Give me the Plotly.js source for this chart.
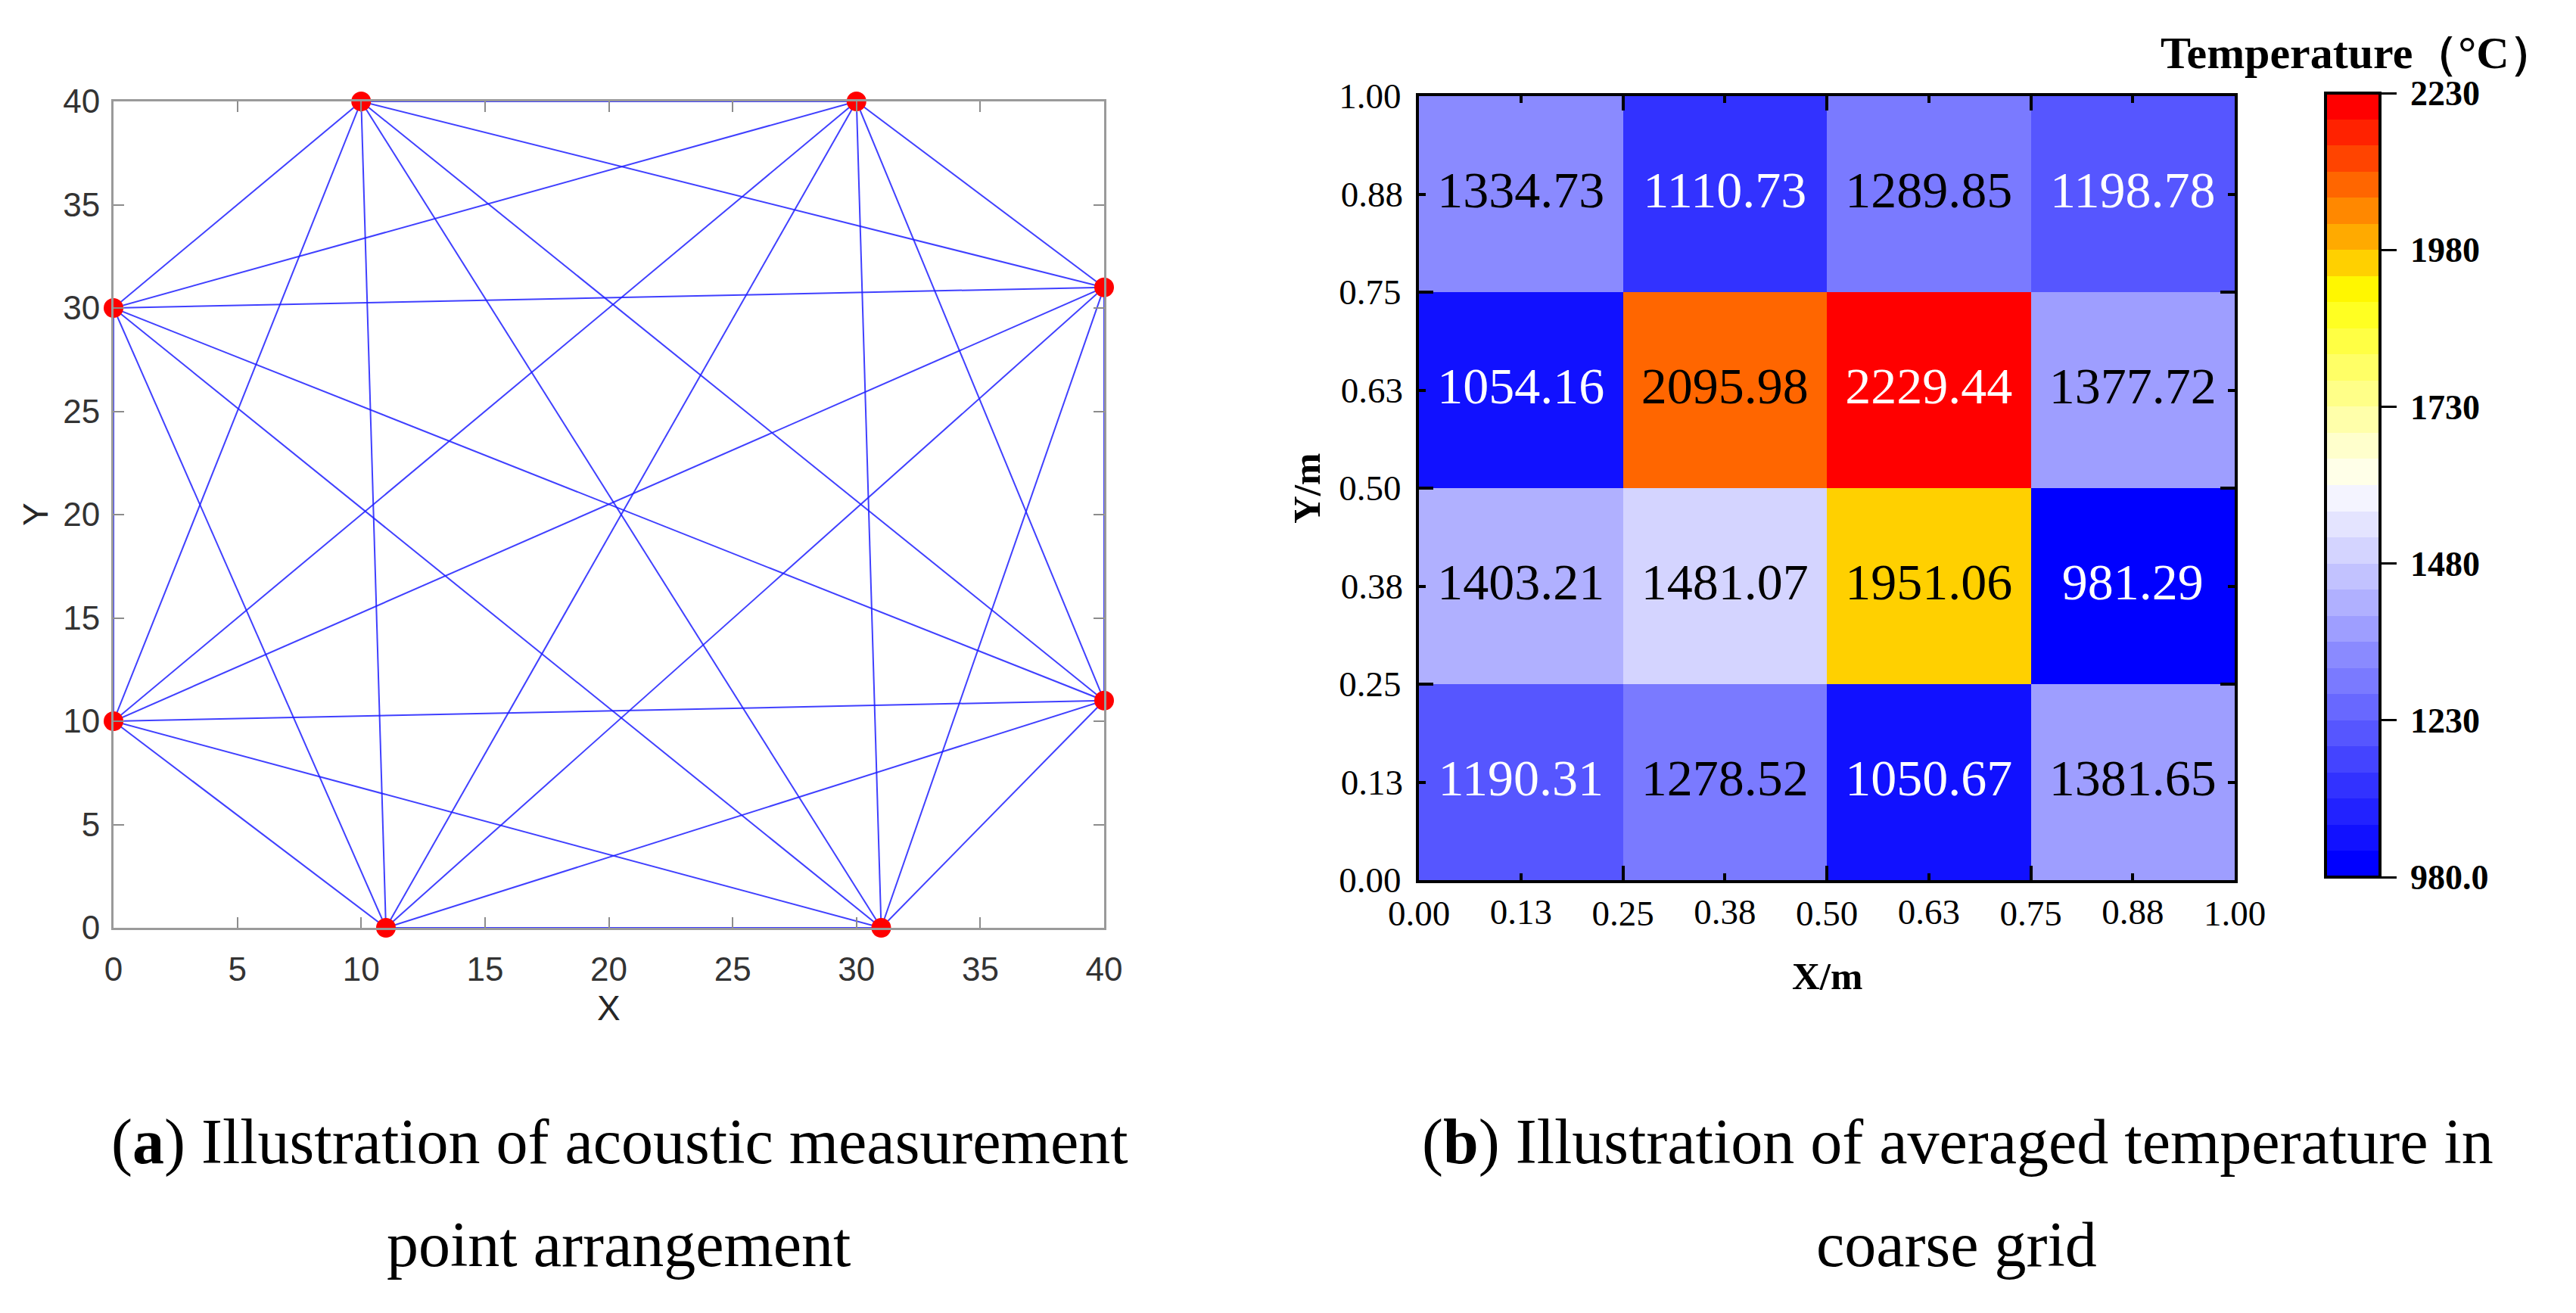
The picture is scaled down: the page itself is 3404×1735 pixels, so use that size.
<!DOCTYPE html>
<html><head><meta charset="utf-8">
<script src="https://cdn.plot.ly/plotly-3.0.1.min.js"></script>
<style>html,body{margin:0;padding:0;background:#fff;} #chart{width:3404px;height:1735px;}</style>
</head><body><div id="chart"></div>
<script>
// ---------- Panel (a): acoustic measurement points ----------
const sensorX = [10, 30, 0, 40, 0, 40, 11, 31];
const sensorY = [40, 40, 30, 31, 10, 11, 0, 0];
const ticksA = [0, 5, 10, 15, 20, 25, 30, 35, 40];

// ---------- Panel (b): averaged temperature, coarse grid ----------
const cellCenters = [0.125, 0.375, 0.625, 0.875];
const tempRow1 = [1190.31, 1278.52, 1050.67, 1381.65]; // y = 0.125
const tempRow2 = [1403.21, 1481.07, 1951.06, 981.29];  // y = 0.375
const tempRow3 = [1054.16, 2095.98, 2229.44, 1377.72]; // y = 0.625
const tempRow4 = [1334.73, 1110.73, 1289.85, 1198.78]; // y = 0.875
const majorTicks = [0, 0.25, 0.5, 0.75, 1];
const majorTickText = ['0.00', '0.25', '0.50', '0.75', '1.00'];
const minorTicks = [0.125, 0.375, 0.625, 0.875];
const minorTickText = ['0.13', '0.38', '0.63', '0.88'];
const cbTickVals = [980, 1230, 1480, 1730, 1980, 2230];
const cbTickText = ['980.0', '1230', '1480', '1730', '1980', '2230'];
const zMin = 980, zMax = 2230;
// 30 discrete bands, bottom (low) to top (high)
const bandColors = [
  '#0000FF','#1111FF','#2222FF','#3232FF','#4444FF','#5656FF','#6868FF','#7A7AFF',
  '#8A8AFF','#9E9EFF','#B0B0FF','#C2C2FF','#D4D4FF','#E4E4FF','#F4F4FF','#FFFFE8',
  '#FFFFCC','#FFFFAA','#FFFF88','#FFFF66','#FFFF44','#FFFF22','#FFF700','#FFD000',
  '#FFAA00','#FF8800','#FF6600','#FF4400','#FF2200','#FF0000'
];

const W = 3404, H = 1735;
const px = p => p / W;
const py = p => 1 - p / H;

// chord lines between every pair of sensors
const lineX = [], lineY = [];
for (let i = 0; i < sensorX.length; i++) {
  for (let j = i + 1; j < sensorX.length; j++) {
    lineX.push(sensorX[i], sensorX[j], null);
    lineY.push(sensorY[i], sensorY[j], null);
  }
}

const zRows = [tempRow1, tempRow2, tempRow3, tempRow4];
const nb = bandColors.length;
const colorscale = [];
bandColors.forEach((c, i) => { colorscale.push([i / nb, c]); colorscale.push([(i + 1) / nb, c]); });

function lum(hex) {
  const v = [1, 3, 5].map(k => parseInt(hex.substr(k, 2), 16) / 255)
    .map(c => c <= 0.03928 ? c / 12.92 : Math.pow((c + 0.055) / 1.055, 2.4));
  return 0.2126 * v[0] + 0.7152 * v[1] + 0.0722 * v[2];
}
function colorFor(z) {
  let i = Math.floor((z - zMin) / (zMax - zMin) * nb);
  i = Math.max(0, Math.min(nb - 1, i));
  return bandColors[i];
}
const txtX = [], txtY = [], txtS = [], txtC = [];
zRows.forEach((row, r) => row.forEach((z, c) => {
  txtX.push(cellCenters[c]); txtY.push(cellCenters[r]);
  txtS.push(z.toFixed(2));
  txtC.push(lum(colorFor(z)) < 0.23 ? '#FFFFFF' : '#000000');
}));

const serif = 'Liberation Serif, Times New Roman, serif';
const sans = 'Liberation Sans, Arial, sans-serif';

const traces = [
  { type: 'scatter', mode: 'lines', x: lineX, y: lineY, xaxis: 'x', yaxis: 'y',
    line: { color: 'rgba(30,30,255,0.85)', width: 2 }, hoverinfo: 'skip', showlegend: false },
  { type: 'scatter', mode: 'markers', x: sensorX, y: sensorY, xaxis: 'x', yaxis: 'y',
    marker: { color: '#FF0000', size: 26 }, cliponaxis: false, showlegend: false },
  { type: 'heatmap', x: cellCenters, y: cellCenters, z: zRows, xaxis: 'x2', yaxis: 'y2',
    zmin: zMin, zmax: zMax, colorscale: colorscale, showscale: true,
    colorbar: {
      x: px(3073), xanchor: 'left', xpad: 0, ypad: 0,
      y: py(123), yanchor: 'top', len: 1036 / H, lenmode: 'fraction',
      thickness: 72, thicknessmode: 'pixels',
      outlinewidth: 4, outlinecolor: '#000',
      tickmode: 'array', tickvals: cbTickVals, ticktext: cbTickText.map(t => '\u2009' + t),
      ticks: 'outside', ticklen: 20, tickwidth: 3, tickcolor: '#000',
      tickfont: { family: serif, size: 46, color: '#000', weight: 'bold' }
    } },
  { type: 'scatter', mode: 'text', x: txtX, y: txtY, text: txtS, xaxis: 'x3', yaxis: 'y3',
    textposition: 'middle center', cliponaxis: false,
    textfont: { family: serif, size: 68, color: txtC }, hoverinfo: 'skip', showlegend: false }
];

const axA = {
  range: [0, 40], tickmode: 'array', tickvals: ticksA, ticks: 'inside', ticklen: 14, tickwidth: 2,
  tickcolor: '#8c8c8c', showline: true, linewidth: 3, linecolor: '#9a9a9a', mirror: 'ticks',
  showgrid: false, zeroline: false, fixedrange: true,
  tickfont: { family: sans, size: 44, color: '#333' }
};
const axB = {
  range: [0, 1], tickmode: 'array', ticks: 'inside', tickwidth: 4, tickcolor: '#000',
  showgrid: false, zeroline: false, fixedrange: true,
  tickfont: { family: serif, size: 47, color: '#000' }
};

const layout = {
  width: W, height: H, paper_bgcolor: '#fff', plot_bgcolor: 'rgba(0,0,0,0)',
  margin: { l: 0, r: 0, t: 0, b: 0, autoexpand: false },
  showlegend: false,
  xaxis: Object.assign({}, axA, { domain: [px(150), px(1459)], anchor: 'y', ticklabelstandoff: 14 }),
  yaxis: Object.assign({}, axA, { domain: [py(1226), py(134)], anchor: 'x', ticklabelstandoff: 6 }),
  xaxis2: Object.assign({}, axB, { domain: [px(1875), px(2953)], anchor: 'y2',
    tickvals: majorTicks, ticktext: majorTickText, ticklen: 19,
    showline: true, linewidth: 4, linecolor: '#000', mirror: 'ticks', ticklabelstandoff: 0 }),
  yaxis2: Object.assign({}, axB, { domain: [py(1163), py(127)], anchor: 'x2',
    tickvals: majorTicks, ticktext: majorTickText, ticklen: 19,
    showline: true, linewidth: 4, linecolor: '#000', mirror: 'ticks', ticklabelstandoff: 10 }),
  xaxis3: Object.assign({}, axB, { domain: [px(1875), px(2953)], anchor: 'y3', overlaying: 'x2',
    tickvals: minorTicks, ticktext: minorTickText, ticklen: 9, showline: false, mirror: 'ticks', ticklabelstandoff: 10 }),
  yaxis3: Object.assign({}, axB, { domain: [py(1163), py(127)], anchor: 'x3', overlaying: 'y2',
    tickvals: minorTicks, ticktext: minorTickText, ticklen: 9, showline: false, mirror: 'ticks', ticklabelstandoff: 20 }),
  annotations: [
    { text: 'X', x: px(804), y: py(1332), xref: 'paper', yref: 'paper', showarrow: false,
      xanchor: 'center', yanchor: 'middle', font: { family: sans, size: 46, color: '#262626' } },
    { text: 'Y', x: px(47), y: py(680), xref: 'paper', yref: 'paper', showarrow: false, textangle: -90,
      xanchor: 'center', yanchor: 'middle', font: { family: sans, size: 46, color: '#262626' } },
    { text: '<b>X/m</b>', x: px(2414), y: py(1290), xref: 'paper', yref: 'paper', showarrow: false,
      xanchor: 'center', yanchor: 'middle', font: { family: serif, size: 51, color: '#000' } },
    { text: '<b>Y/m</b>', x: px(1727), y: py(645), xref: 'paper', yref: 'paper', showarrow: false, textangle: -90,
      xanchor: 'center', yanchor: 'middle', font: { family: serif, size: 51, color: '#000' } },
    { text: '<b>Temperature（°C）</b>', x: px(3115), y: py(70), xref: 'paper', yref: 'paper', showarrow: false,
      xanchor: 'center', yanchor: 'middle', font: { family: serif, size: 60, color: '#000' } },
    { text: '(<b>a</b>) Illustration of acoustic measurement', x: px(819), y: py(1509), xref: 'paper', yref: 'paper',
      showarrow: false, xanchor: 'center', yanchor: 'middle', font: { family: serif, size: 84, color: '#000' } },
    { text: 'point arrangement', x: px(817), y: py(1644), xref: 'paper', yref: 'paper',
      showarrow: false, xanchor: 'center', yanchor: 'middle', font: { family: serif, size: 84, color: '#000' } },
    { text: '(<b>b</b>) Illustration of averaged temperature in', x: px(2587), y: py(1509), xref: 'paper', yref: 'paper',
      showarrow: false, xanchor: 'center', yanchor: 'middle', font: { family: serif, size: 84, color: '#000' } },
    { text: 'coarse grid', x: px(2585), y: py(1644), xref: 'paper', yref: 'paper',
      showarrow: false, xanchor: 'center', yanchor: 'middle', font: { family: serif, size: 84, color: '#000' } }
  ]
};

Plotly.newPlot('chart', traces, layout, { staticPlot: true, displayModeBar: false });
</script>
</body></html>
